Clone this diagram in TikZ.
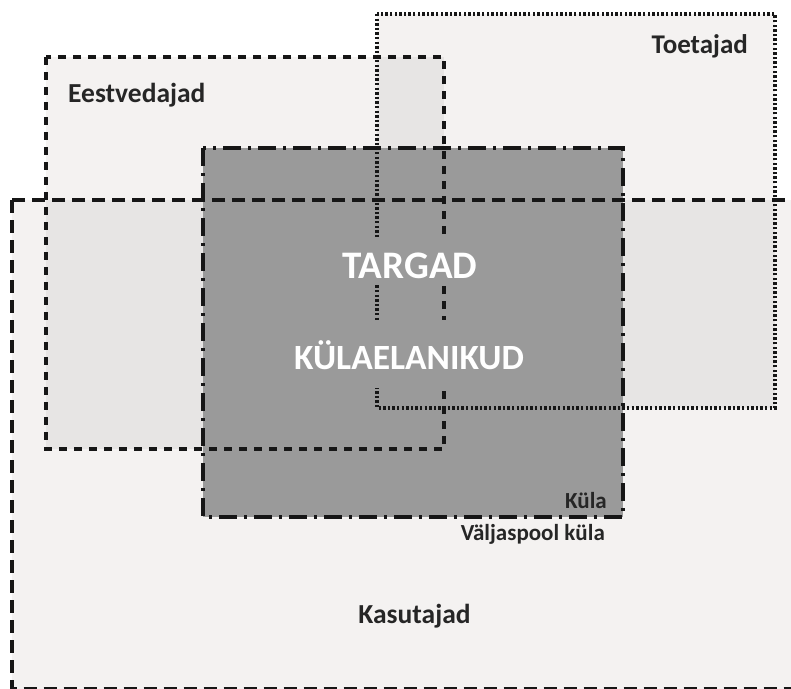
\documentclass[tikz,border=0pt]{standalone}
\usepackage{fontspec}
\setmainfont{Carlito}
\definecolor{basefill}{HTML}{F4F2F1}
\definecolor{overfill}{HTML}{E7E5E4}
\definecolor{kulafill}{HTML}{9A9A9A}
\definecolor{inkc}{HTML}{161616}
\definecolor{labelc}{HTML}{262626}
\tikzset{
  edgeline/.style={draw=inkc, line width=3.4pt},
  eestline/.style={edgeline, dash pattern=on 8pt off 7pt},
  toetline/.style={edgeline, line width=3.2pt, dash pattern=on 2.4pt off 2.2pt},
  kulaline/.style={edgeline, dash pattern=on 18pt off 7pt on 3pt off 7pt},
  kasuline/.style={edgeline, dash pattern=on 13pt off 7pt},
  darklabel/.style={text=labelc, font=\bfseries\fontsize{27.5}{31}\selectfont, inner sep=0pt},
  smalllabel/.style={text=labelc, font=\bfseries\fontsize{23}{27}\selectfont, inner sep=0pt},
  biglabel/.style={text=white, fill=kulafill, inner xsep=3pt, inner ysep=0pt}
}
\begin{document}
\begin{tikzpicture}[x=1pt, y=-1pt]
\useasboundingbox (0,0) rectangle (791,688);
\clip (0,0) rectangle (791,688);
\fill[white] (0,0) rectangle (791,688);
% region coordinates
\coordinate (kasTL) at (12,200);  \coordinate (kasBR) at (800,688.5);
\coordinate (eesTL) at (46,57);   \coordinate (eesBR) at (444,449);
\coordinate (toeTL) at (377,14);  \coordinate (toeBR) at (775,408);
\coordinate (kulTL) at (203,148); \coordinate (kulBR) at (623,517);
% fills
\fill[basefill] (kasTL) rectangle (kasBR);
\fill[basefill] (eesTL) rectangle (eesBR);
\fill[basefill] (toeTL) rectangle (toeBR);
\fill[overfill] (46,200) rectangle (444,449);
\fill[overfill] (377,57) rectangle (444,408);
\fill[overfill] (377,200) rectangle (775,408);
\fill[kulafill] (kulTL) rectangle (kulBR);
% borders
\draw[kasuline] (kasTL) rectangle (kasBR);
\draw[eestline] (eesTL) rectangle (eesBR);
\draw[kulaline] (kulTL) rectangle (kulBR);
\draw[toetline] (toeTL) rectangle (toeBR);
% labels
\node[darklabel, anchor=base west] (eest) at (68,102) {Eestvedajad};
\node[darklabel, font=\bfseries\fontsize{27}{31}\selectfont, anchor=base east] (toet) at (748,53) {Toetajad};
\node[darklabel, anchor=base] (kasu) at (414.5,623) {Kasutajad};
\node[smalllabel, anchor=base east] (kula) at (607,508) {Küla};
\node[smalllabel, anchor=base east] (valj) at (605,540) {Väljaspool küla};
\node[biglabel, font=\bfseries\fontsize{39}{44}\selectfont, anchor=base, text height=41pt, text depth=5pt] (targ) at (410,278) {TARGAD};
\node[biglabel, font=\bfseries\fontsize{35.5}{40}\selectfont, anchor=base, text height=49pt, text depth=19pt] (kyla) at (409,369) {KÜLAELANIKUD};
\end{tikzpicture}
\end{document}
